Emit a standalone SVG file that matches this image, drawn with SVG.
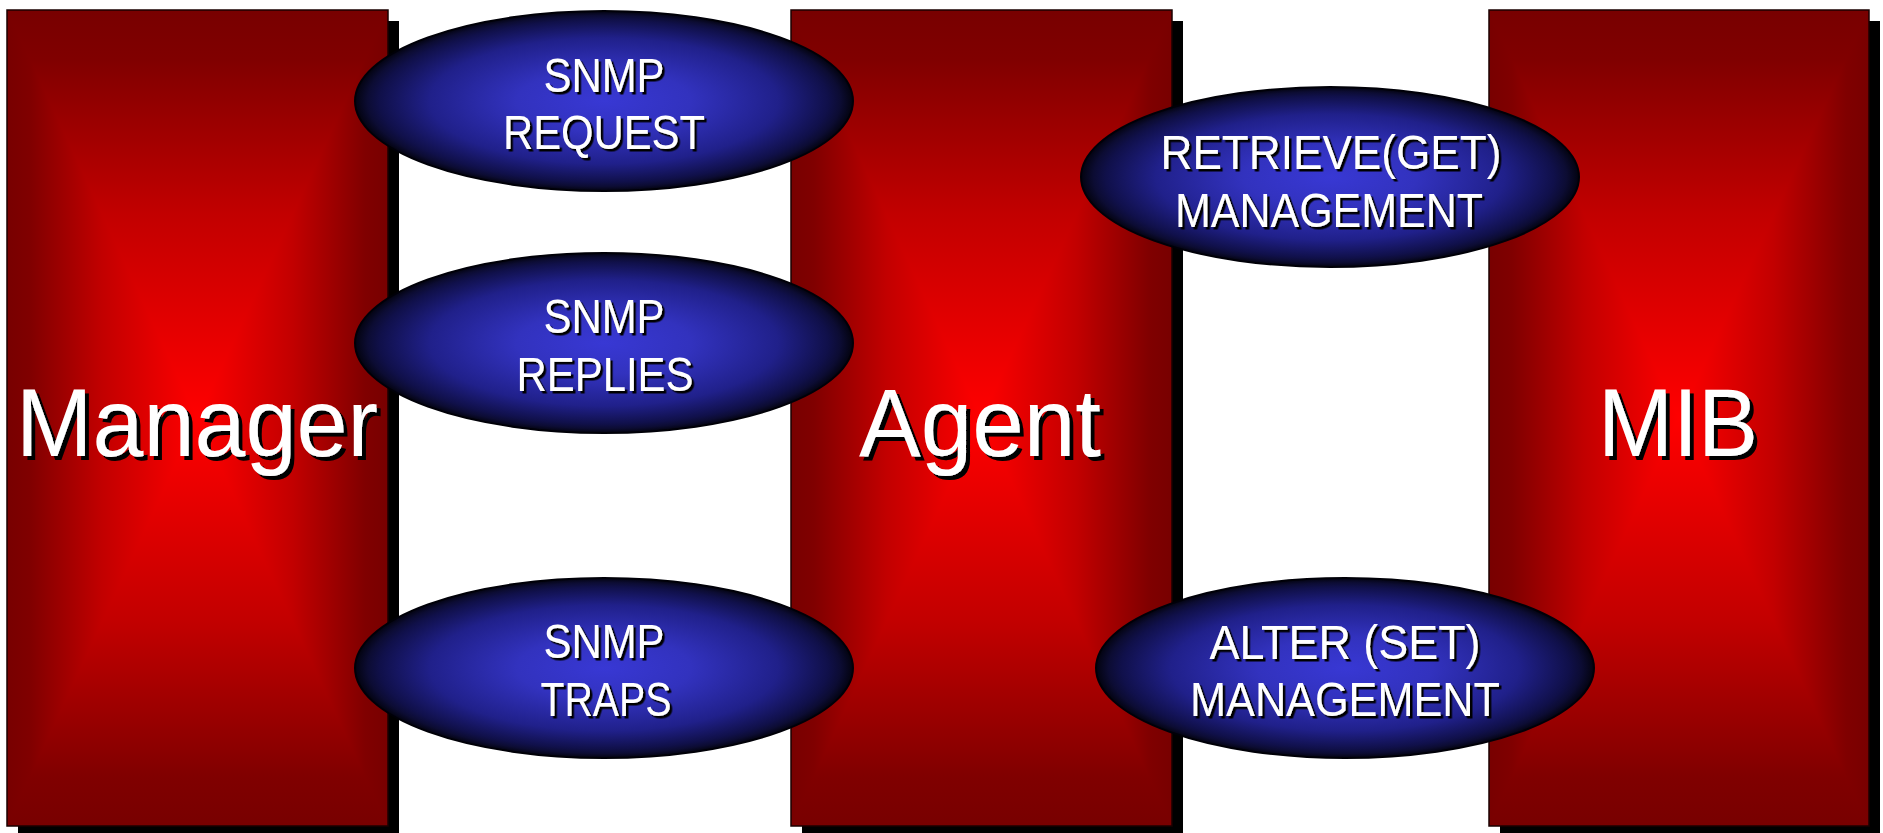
<svg xmlns="http://www.w3.org/2000/svg" width="1883" height="833" viewBox="0 0 1883 833">
<defs>
<linearGradient id="gT" x1="0" y1="0" x2="0" y2="1"><stop offset="0" stop-color="#780000"/><stop offset="0.12" stop-color="#800000"/><stop offset="0.5" stop-color="#c20000"/><stop offset="1" stop-color="#ff0000"/></linearGradient>
<linearGradient id="gB" x1="0" y1="1" x2="0" y2="0"><stop offset="0" stop-color="#780000"/><stop offset="0.12" stop-color="#800000"/><stop offset="0.5" stop-color="#c20000"/><stop offset="1" stop-color="#ff0000"/></linearGradient>
<linearGradient id="gL" x1="0" y1="0" x2="1" y2="0"><stop offset="0" stop-color="#780000"/><stop offset="0.12" stop-color="#800000"/><stop offset="0.5" stop-color="#c20000"/><stop offset="1" stop-color="#ff0000"/></linearGradient>
<linearGradient id="gR" x1="1" y1="0" x2="0" y2="0"><stop offset="0" stop-color="#780000"/><stop offset="0.12" stop-color="#800000"/><stop offset="0.5" stop-color="#c20000"/><stop offset="1" stop-color="#ff0000"/></linearGradient>
<radialGradient id="gE" cx="0.5" cy="0.5" r="0.5">
<stop offset="0" stop-color="#3838d4"/><stop offset="0.35" stop-color="#3232be"/><stop offset="0.7" stop-color="#20208a"/><stop offset="0.9" stop-color="#10104a"/><stop offset="0.95" stop-color="#0c0c33"/><stop offset="1" stop-color="#03030f"/></radialGradient>
<filter id="sh1" x="-10%" y="-20%" width="130%" height="150%"><feDropShadow dx="4" dy="4" stdDeviation="0" flood-color="#000"/></filter>
<filter id="sh2" x="-10%" y="-20%" width="130%" height="150%"><feDropShadow dx="2.5" dy="2.5" stdDeviation="0" flood-color="#000"/></filter>
</defs>
<style>
.shadow{fill:#000}
.frame{fill:none;stroke:#1a0000;stroke-width:1.5}
.tri{shape-rendering:crispEdges}
.ell{fill:url(#gE);stroke:#000008;stroke-width:2}
.big{font-family:"Liberation Sans",Arial,sans-serif;font-size:96px;fill:#fff;text-anchor:middle;filter:url(#sh1)}
.sm{font-family:"Liberation Sans",Arial,sans-serif;font-size:49px;fill:#fff;text-anchor:middle;filter:url(#sh2)}
</style>
<rect width="1883" height="833" fill="#fff"/>
<g id="connectors"/>
<g id="manager">
<rect class="shadow" x="18" y="21" width="381" height="816"/>
<polygon class="tri" points="7,10 388,10 197.5,418" fill="url(#gT)"/>
<polygon class="tri" points="7,826 388,826 197.5,418" fill="url(#gB)"/>
<polygon class="tri" points="7,10 7,826 197.5,418" fill="url(#gL)"/>
<polygon class="tri" points="388,10 388,826 197.5,418" fill="url(#gR)"/>
<rect class="frame" x="7" y="10" width="381" height="816"/>
<text class="big" x="197" y="456" textLength="362" lengthAdjust="spacingAndGlyphs">Manager</text>
</g>
<g id="agent">
<rect class="shadow" x="802" y="21" width="381" height="816"/>
<polygon class="tri" points="791,10 1172,10 981.5,418" fill="url(#gT)"/>
<polygon class="tri" points="791,826 1172,826 981.5,418" fill="url(#gB)"/>
<polygon class="tri" points="791,10 791,826 981.5,418" fill="url(#gL)"/>
<polygon class="tri" points="1172,10 1172,826 981.5,418" fill="url(#gR)"/>
<rect class="frame" x="791" y="10" width="381" height="816"/>
<text class="big" x="980" y="456" textLength="242" lengthAdjust="spacingAndGlyphs">Agent</text>
</g>
<g id="mib">
<rect class="shadow" x="1500" y="21" width="380" height="816"/>
<polygon class="tri" points="1489,10 1869,10 1679,418" fill="url(#gT)"/>
<polygon class="tri" points="1489,826 1869,826 1679,418" fill="url(#gB)"/>
<polygon class="tri" points="1489,10 1489,826 1679,418" fill="url(#gL)"/>
<polygon class="tri" points="1869,10 1869,826 1679,418" fill="url(#gR)"/>
<rect class="frame" x="1489" y="10" width="380" height="816"/>
<text class="big" x="1678" y="456" textLength="160" lengthAdjust="spacingAndGlyphs">MIB</text>
</g>
<g id="snmp-request">
<ellipse class="ell" cx="604" cy="101" rx="249" ry="90"/>
<text class="sm" x="604" y="92" textLength="121" lengthAdjust="spacingAndGlyphs">SNMP</text>
<text class="sm" x="604" y="149" textLength="202" lengthAdjust="spacingAndGlyphs">REQUEST</text>
</g>
<g id="snmp-replies">
<ellipse class="ell" cx="604" cy="343" rx="249" ry="90"/>
<text class="sm" x="604" y="333" textLength="121" lengthAdjust="spacingAndGlyphs">SNMP</text>
<text class="sm" x="605" y="391" textLength="177" lengthAdjust="spacingAndGlyphs">REPLIES</text>
</g>
<g id="snmp-traps">
<ellipse class="ell" cx="604" cy="668" rx="249" ry="90"/>
<text class="sm" x="604" y="658" textLength="121" lengthAdjust="spacingAndGlyphs">SNMP</text>
<text class="sm" x="606" y="716" textLength="131" lengthAdjust="spacingAndGlyphs">TRAPS</text>
</g>
<g id="retrieve-get">
<ellipse class="ell" cx="1330" cy="177" rx="249" ry="90"/>
<text class="sm" x="1331" y="169" textLength="341" lengthAdjust="spacingAndGlyphs">RETRIEVE(GET)</text>
<text class="sm" x="1329" y="227" textLength="308" lengthAdjust="spacingAndGlyphs">MANAGEMENT</text>
</g>
<g id="alter-set">
<ellipse class="ell" cx="1345" cy="668" rx="249" ry="90"/>
<text class="sm" x="1345" y="659" textLength="271" lengthAdjust="spacingAndGlyphs">ALTER (SET)</text>
<text class="sm" x="1345" y="716" textLength="310" lengthAdjust="spacingAndGlyphs">MANAGEMENT</text>
</g>
</svg>
